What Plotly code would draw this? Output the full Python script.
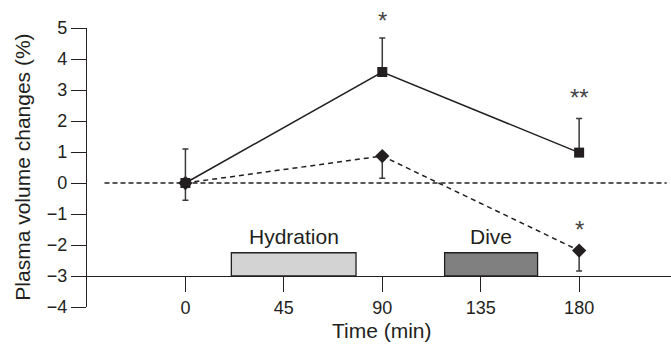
import plotly.graph_objects as go

# Data
time_min = [0, 90, 180]
sq_values = [0.0, 3.58, 0.98]
sq_err_up = [1.1, 1.1, 1.1]
dm_values = [0.0, 0.87, -2.18]
dm_err_down = [0.56, 0.72, 0.66]
x_ticks = [0, 45, 90, 135, 180]
y_ticks = [-4, -3, -2, -1, 0, 1, 2, 3, 4, 5]
hydration = [21, 78]
dive = [118.5, 161]
box_top = -2.25
axis_base = -3
sig_marks = [(90, 5.25, "*"), (180, 2.75, "**"), (180, -1.5, "*")]

Y_MIN, Y_MAX = -4, 5
INK = "#231f20"
FONT = "Liberation Sans, Arial, Helvetica, sans-serif"

fig = go.Figure()

# Dashed line series (diamonds)
fig.add_trace(go.Scatter(
    x=time_min, y=dm_values, mode="lines+markers",
    line=dict(color=INK, width=1.5, dash="5px,4px"),
    marker=dict(symbol="diamond", size=11, color=INK),
    error_y=dict(type="data", symmetric=False, array=[0, 0, 0], arrayminus=dm_err_down,
                 color="#3a3a3a", thickness=1.5, width=3),
    showlegend=False, cliponaxis=False,
))
# Solid line series (squares)
fig.add_trace(go.Scatter(
    x=time_min, y=sq_values, mode="lines+markers",
    line=dict(color=INK, width=1.5),
    marker=dict(symbol="square", size=10, color=INK),
    error_y=dict(type="data", symmetric=False, array=sq_err_up, arrayminus=[0, 0, 0],
                 color="#3a3a3a", thickness=1.5, width=3),
    showlegend=False, cliponaxis=False,
))

shapes = [
    dict(type="line", xref="x", yref="y", x0=-37, x1=220, y0=0, y1=0,
         line=dict(color=INK, width=1.3, dash="5px,3px"), layer="below"),
    dict(type="rect", xref="x", yref="y", x0=hydration[0], x1=hydration[1], y0=axis_base, y1=box_top,
         fillcolor="#d3d3d3", line=dict(color=INK, width=1.3), layer="below"),
    dict(type="rect", xref="x", yref="y", x0=dive[0], x1=dive[1], y0=axis_base, y1=box_top,
         fillcolor="#808080", line=dict(color=INK, width=1.3), layer="below"),
]

annotations = [
    dict(x=sum(hydration) / 2, y=box_top, xref="x", yref="y", text="Hydration", showarrow=False,
         yanchor="bottom", yshift=3, font=dict(size=21, color=INK, family=FONT)),
    dict(x=sum(dive) / 2, y=box_top, xref="x", yref="y", text="Dive", showarrow=False,
         yanchor="bottom", yshift=3, font=dict(size=21, color=INK, family=FONT)),
    dict(x=90, y=-0.086, xref="x", yref="paper", text="Time (min)", showarrow=False,
         yanchor="middle", font=dict(size=21, color=INK, family=FONT)),
    dict(x=-0.111, y=0.5, xref="paper", yref="paper", text="Plasma volume changes (%)",
         showarrow=False, textangle=-90, xanchor="center", yanchor="middle",
         font=dict(size=21, color=INK, family=FONT)),
]
for sx, sy, st in sig_marks:
    annotations.append(dict(x=sx, y=(sy - Y_MIN) / (Y_MAX - Y_MIN), xref="x", yref="paper",
                            text=st, showarrow=False, yanchor="middle",
                            font=dict(size=24, color="#444444", family=FONT)))

fig.update_layout(
    width=671, height=344,
    margin=dict(l=87, r=0, t=28, b=37),
    paper_bgcolor="white", plot_bgcolor="white",
    font=dict(family=FONT, color=INK),
    shapes=shapes, annotations=annotations,
    xaxis=dict(range=[-45, 222], tickvals=x_ticks, ticks="outside", ticklen=15,
               tickwidth=1.2, tickcolor=INK, showline=True, linecolor=INK, linewidth=1.2,
               showgrid=False, zeroline=False, anchor="free", position=1 / 9,
               tickfont=dict(size=18, color=INK, family=FONT)),
    yaxis=dict(range=[Y_MIN, Y_MAX], tickvals=y_ticks, ticks="outside", ticklen=15,
               tickwidth=1.2, tickcolor=INK, showline=True, linecolor=INK, linewidth=1.2,
               showgrid=False, zeroline=False,
               tickfont=dict(size=18, color=INK, family=FONT)),
)

fig.write_html("out.html", config={"displayModeBar": False},
               post_script="document.body.style.margin='0';document.body.style.overflow='hidden';")
